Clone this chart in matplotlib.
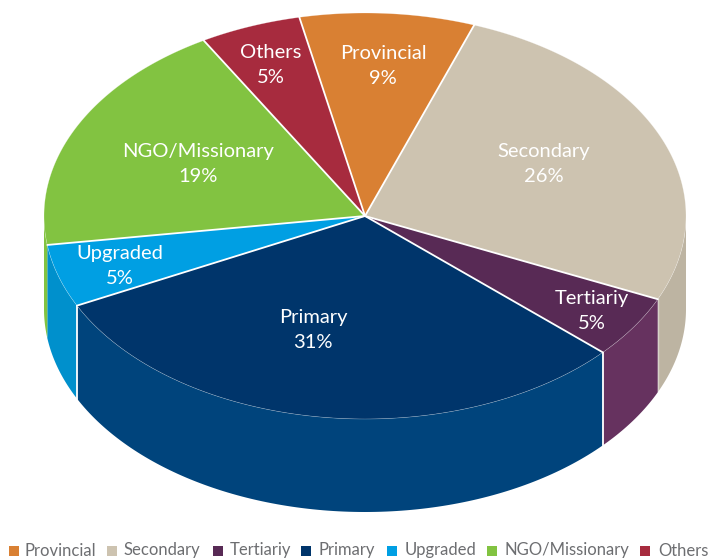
import numpy as np
import matplotlib
matplotlib.use('Agg')
import matplotlib.pyplot as plt
from matplotlib.patches import Polygon, Rectangle

names = ['Provincial', 'Secondary', 'Tertiariy', 'Primary', 'Upgraded', 'NGO/Missionary', 'Others']
values = [8.8, 26.2, 5.0, 31.0, 5.0, 18.9, 5.1]
top_colors = ['#D98033', '#CDC3B0', '#582A55', '#00356B', '#009FE3', '#82C341', '#A72B3E']
side_colors = ['#C4732E', '#BDB4A2', '#66325F', '#00447C', '#0090CC', '#82C341', '#962738']
label_pos = [(383, 66), (544, 164), (592, 311), (313, 330), (120, 266), (198, 164), (271, 65)]
legend_box_x = [9, 107, 213, 301, 387, 487, 640]
legend_text_x = [25, 124, 230, 319, 405, 505, 658]

cx, cy = 365, 216
rx, ry = 321, 203
depth = 93
start = -11.8


def rim(a0, a1, dy=0):
    t = np.radians(np.linspace(a0, a1, 120))
    return np.c_[cx + rx * np.sin(t), cy - ry * np.cos(t) + dy]


plt.rcParams['font.family'] = ['Lato', 'DejaVu Sans']
fig = plt.figure(figsize=(7.08, 5.58), dpi=100)
ax = fig.add_axes([0, 0, 1, 1])
ax.set_xlim(0, 708)
ax.set_ylim(558, 0)
ax.axis('off')

edges = start + np.r_[0, np.cumsum(values)] * 3.6

# side wall, only the part facing the viewer (90 to 270 deg from the top)
for i in range(len(values)):
    a0, a1 = max(edges[i], 90), min(edges[i + 1], 270)
    if a1 <= a0:
        continue
    front = rim(a0, a1)
    back = rim(a0, a1, depth)[::-1]
    ax.add_patch(Polygon(np.r_[front, back], fc=side_colors[i], ec='none', zorder=2))

# white seams on the wall: strong round the primary slice, faint next to secondary
for k, (lw, alpha) in {2: (1.0, 0.4), 3: (1.3, 1.0), 4: (1.3, 1.0)}.items():
    p = rim(edges[k], edges[k])[0]
    ax.plot([p[0], p[0]], [p[1], p[1] + depth], color='white', lw=lw, alpha=alpha, zorder=3)

# top faces
for i in range(len(values)):
    arc = rim(edges[i], edges[i + 1])
    ax.add_patch(Polygon(np.r_[[[cx, cy]], arc], fc=top_colors[i], ec='none', zorder=4))
    ax.plot(arc[:, 0], arc[:, 1], color='white', lw=0.4, alpha=0.4, zorder=5)
for a in edges[:-1]:
    p = rim(a, a)[0]
    ax.plot([cx, p[0]], [cy, p[1]], color='white', lw=1.3, zorder=6, solid_capstyle='round')

for name, v, (x, y) in zip(names, values, label_pos):
    ax.text(x, y, f'{name}\n{v:.0f}%', color='white', fontsize=14.5, ha='center', va='center',
            linespacing=1.6, zorder=7)

# legend
for name, c, bx, tx in zip(names, top_colors, legend_box_x, legend_text_x):
    ax.add_patch(Rectangle((bx, 546), 10, 10, fc=c, ec='none'))
    ax.text(tx, 550.5, name, color='#6D6E71', fontsize=12, va='center')

fig.savefig('out.png', dpi=100)
